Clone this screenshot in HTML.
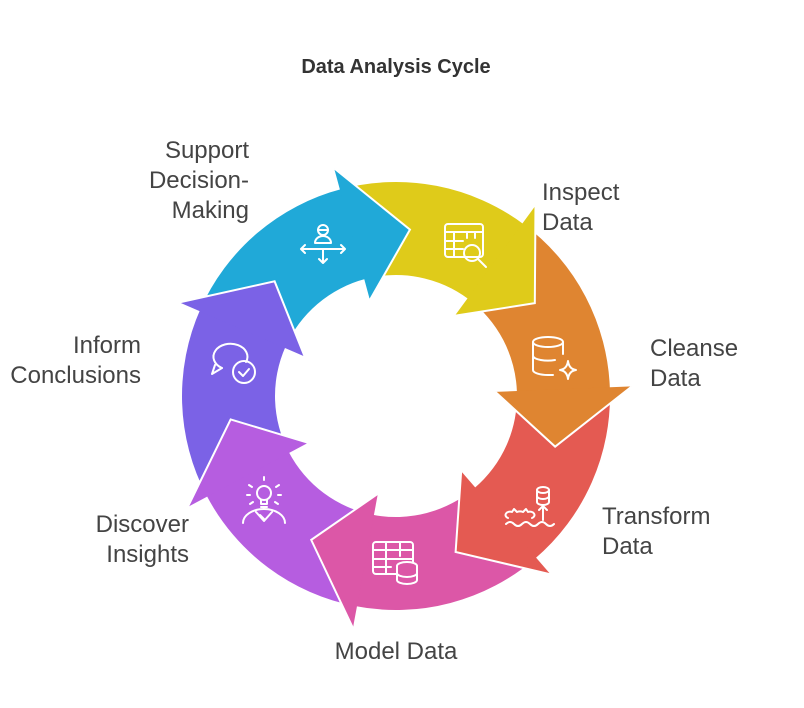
<!DOCTYPE html>
<html><head><meta charset="utf-8"><style>
html,body{margin:0;padding:0;background:#fff;}
body{width:804px;height:708px;position:relative;overflow:hidden;font-family:"Liberation Sans",sans-serif;}
.t{position:absolute;font-size:24px;color:#444;line-height:30px;white-space:nowrap;}
.r{text-align:right;}
</style></head><body>
<div class="t" style="left:0;width:792px;text-align:center;top:52px;font-weight:bold;font-size:20px;color:#333;">Data Analysis Cycle</div>
<div class="t r" style="right:555px;top:136px;">Support<br>Decision-<br>Making</div>
<div class="t" style="left:542px;top:178px;">Inspect<br>Data</div>
<div class="t" style="left:650px;top:334px;">Cleanse<br>Data</div>
<div class="t" style="left:602px;top:502px;">Transform<br>Data</div>
<div class="t" style="left:0;width:792px;text-align:center;top:637px;">Model Data</div>
<div class="t r" style="right:615px;top:510px;">Discover<br>Insights</div>
<div class="t r" style="right:663px;top:331px;">Inform<br>Conclusions</div>
<svg id="s" width="804" height="708" style="position:absolute;left:0;top:0;">
<g id="bodies"></g><g id="heads"></g>
<g fill="none" stroke="#fff" stroke-width="2" stroke-linecap="round" stroke-linejoin="round">
 <g transform="translate(323,240)">
  <circle cx="0" cy="-10" r="5"/><path d="M-5,-10h10"/><path d="M-8,3a8,7 0 0 1 16,0z"/>
  <path d="M-22,9h44M-22,9l4,-4M-22,9l4,4M22,9l-4,-4M22,9l-4,4M0,9v14M0,23l-4,-4M0,23l4,-4"/>
 </g>
 <g transform="translate(465,245)">
  <rect x="-20" y="-21" width="38" height="33" rx="3"/><path d="M-20,-13h38M-20,-4h18M-20,4h18M-11,-13v25M2,-13v6M10,-13v6"/>
  <circle cx="7" cy="8" r="8"/><path d="M13,14l8,8"/>
 </g>
 <g transform="translate(553,358)">
  <ellipse cx="-5" cy="-16" rx="15" ry="5"/><path d="M-20,-16v28a15,5 0 0 0 15,5h5M10,-16v12M-20,-2a15,5 0 0 0 22,4"/>
  <path d="M15,3q1,8 8,9q-7,1 -8,9q-1,-8 -8,-9q7,-1 8,-9z"/>
 </g>
 <g transform="translate(528,510)">
  <ellipse cx="15" cy="-20" rx="6" ry="3"/><path d="M9,-20v12a6,3 0 0 0 12,0v-12M9,-14a6,3 0 0 0 12,0"/>
  <path d="M15,10v-13M11,-0l4,-4l4,4"/>
  <path d="M-20,8a4,3 0 0 1 4,-6l2,-3l3,3a8,8 0 0 1 6,0l3,-3l2,3a4,3 0 0 1 4,6"/>
  <path d="M-22,14q4,-4 8,0q4,4 8,0q4,-4 8,0q4,4 8,0q4,-4 8,0q4,4 8,0"/>
 </g>
 <g transform="translate(395,562)">
  <rect x="-22" y="-20" width="40" height="32" rx="3"/><path d="M-22,-12h40M-22,-3h40M-22,5h18M-9,-20v32M5,-20v14"/>
  <ellipse cx="12" cy="4" rx="10" ry="4" fill="#DC57A7"/><path d="M2,4v14a10,4 0 0 0 20,0v-14M2,11a10,4 0 0 0 20,0" fill="#DC57A7"/>
 </g>
 <g transform="translate(264,505)">
  <circle cx="0" cy="-12" r="7"/><path d="M-3,-5v4h6v-4M-3,2h6"/>
  <path d="M0,-25v-3M-12,-18l-3,-2M12,-18l3,-2M-14,-10h-3M14,-10h3M-11,-3l-3,2M11,-3l3,2"/>
  <path d="M-21,18a21,14 0 0 1 42,0M-8,7l8,9l8,-9M-4,10l4,4"/>
 </g>
 <g transform="translate(232,360)">
  <path d="M-10,8a17,13 0 1 1 24,-6"/><path d="M-10,8l-10,6l3,-9"/>
  <circle cx="12" cy="12" r="11"/><path d="M7,12l4,4l6,-7"/>
 </g>
</g>
</svg>
<script>
(function(){
var cx=396,cy=396,Ro=214,Ri=121,Rm=167,Ho=236,Hi=99.5,HL=20,step=360/7,t0=4.8;
var cols=["#20A9D8","#DFCB1A","#DF8531","#E45A52","#DC57A7","#B65DE0","#7B62E6"];
function P(r,a){a=a*Math.PI/180;return [(cx+r*Math.sin(a)).toFixed(2),(cy-r*Math.cos(a)).toFixed(2)];}
var b="",h="";
for(var i=0;i<7;i++){
 var tip=t0+step*i, base=tip-HL, start=tip-step-HL+0.3;
 var o1=P(Ro,start),o2=P(Ro,base+0.6),i2=P(Ri,base+0.6),i1=P(Ri,start);
 b+='<path fill="'+cols[i]+'" d="M'+o1+' A'+Ro+','+Ro+' 0 0 1 '+o2+' L'+i2+' A'+Ri+','+Ri+' 0 0 0 '+i1+' Z"/>';
 var a=P(Ho,base),t=P(Rm,tip),c=P(Hi,base);
 h+='<path fill="'+cols[i]+'" d="M'+a+' L'+t+' L'+c+' Z"/>';
 h+='<path fill="none" stroke="#fff" stroke-width="2" stroke-linejoin="miter" d="M'+a+' L'+t+' L'+c+'"/>';
}
document.getElementById("bodies").innerHTML=b;
document.getElementById("heads").innerHTML=h;
})();
</script>
</body></html>
